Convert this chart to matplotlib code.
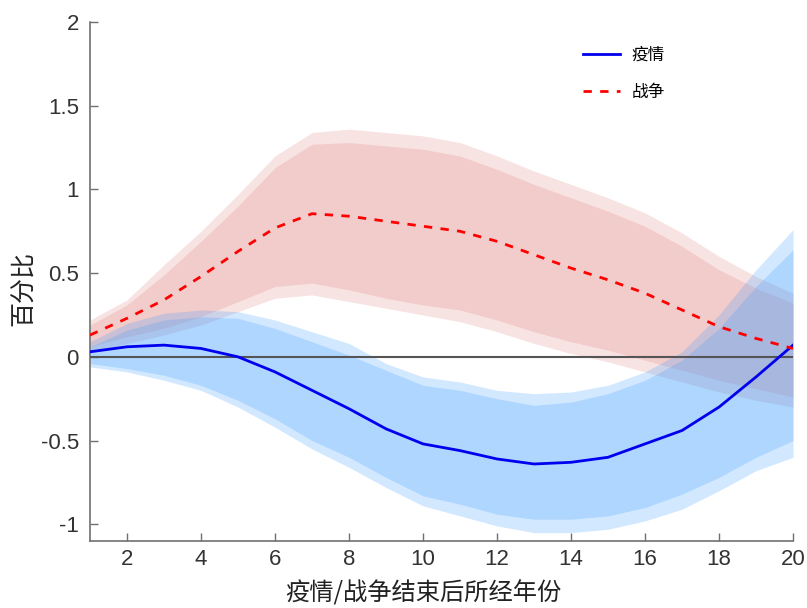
import matplotlib
matplotlib.use("Agg")
import matplotlib.pyplot as plt
import numpy as np

plt.rcParams['font.family'] = ['Noto Sans CJK SC', 'DejaVu Sans']

years = list(range(1, 21))

# 疫情 (pandemic)
epi_mean = [0.03, 0.06, 0.07, 0.05, 0.0, -0.09, -0.2, -0.31, -0.43, -0.52,
            -0.56, -0.61, -0.64, -0.63, -0.60, -0.52, -0.44, -0.30, -0.12, 0.07]
epi_up_outer = [0.09, 0.2, 0.26, 0.28, 0.27, 0.22, 0.15, 0.08, -0.04, -0.12,
                -0.15, -0.2, -0.22, -0.21, -0.17, -0.09, 0.03, 0.25, 0.52, 0.76]
epi_up_inner = [0.06, 0.16, 0.22, 0.24, 0.23, 0.17, 0.09, 0.01, -0.08, -0.17,
                -0.2, -0.25, -0.29, -0.27, -0.22, -0.14, -0.02, 0.17, 0.42, 0.64]
epi_lo_inner = [-0.04, -0.07, -0.11, -0.17, -0.26, -0.37, -0.5, -0.6, -0.72, -0.83,
                -0.88, -0.94, -0.97, -0.97, -0.95, -0.9, -0.82, -0.72, -0.6, -0.5]
epi_lo_outer = [-0.06, -0.09, -0.14, -0.2, -0.3, -0.42, -0.55, -0.66, -0.78, -0.89,
                -0.95, -1.01, -1.05, -1.05, -1.03, -0.98, -0.91, -0.8, -0.68, -0.6]

# 战争 (war)
war_mean = [0.13, 0.23, 0.34, 0.48, 0.63, 0.77, 0.855, 0.84, 0.81, 0.78,
            0.75, 0.69, 0.61, 0.53, 0.46, 0.38, 0.28, 0.18, 0.11, 0.05]
war_up_outer = [0.22, 0.34, 0.55, 0.75, 0.97, 1.2, 1.34, 1.36, 1.34, 1.32,
                1.28, 1.2, 1.11, 1.03, 0.95, 0.86, 0.74, 0.6, 0.48, 0.38]
war_up_inner = [0.19, 0.31, 0.49, 0.69, 0.9, 1.13, 1.27, 1.28, 1.26, 1.24,
                1.2, 1.12, 1.03, 0.95, 0.87, 0.78, 0.66, 0.52, 0.41, 0.32]
war_lo_inner = [0.06, 0.12, 0.17, 0.24, 0.33, 0.42, 0.44, 0.40, 0.35, 0.31,
                0.28, 0.22, 0.15, 0.09, 0.04, -0.02, -0.08, -0.14, -0.19, -0.24]
war_lo_outer = [0.03, 0.08, 0.13, 0.19, 0.27, 0.35, 0.37, 0.33, 0.29, 0.25,
                0.21, 0.15, 0.08, 0.02, -0.03, -0.09, -0.15, -0.21, -0.26, -0.30]

xticks = [2, 4, 6, 8, 10, 12, 14, 16, 18, 20]
yticks = [-1, -0.5, 0, 0.5, 1, 1.5, 2]
ytick_labels = ['-1', '-0.5', '0', '0.5', '1', '1.5', '2']

fig = plt.figure(figsize=(8.07, 6.08), dpi=100)
ax = fig.add_axes([0.1115, 0.1102, 0.8712, 0.8536])

blue_base = (0.2, 0.6, 1.0)
red_base = (0.82, 0.27, 0.27)

ax.fill_between(years, war_lo_outer, war_up_outer, color=red_base, alpha=0.15, lw=0)
ax.fill_between(years, war_lo_inner, war_up_inner, color=red_base, alpha=0.15, lw=0)
ax.fill_between(years, epi_lo_outer, epi_up_outer, color=blue_base, alpha=0.22, lw=0)
ax.fill_between(years, epi_lo_inner, epi_up_inner, color=blue_base, alpha=0.22, lw=0)

ax.axhline(0, color='#555555', lw=1.5, zorder=3)

ax.plot(years, epi_mean, color='#0000ee', lw=2, label='疫情', zorder=4)
ax.plot(years, war_mean, color='#ff0000', lw=2, ls=(0, (3, 3)), label='战争', zorder=4)

ax.set_xlim(1, 20)
ax.set_ylim(-1.1, 2)
ax.set_xticks(xticks)
ax.set_yticks(yticks)
ax.set_yticklabels(ytick_labels)

for s in ['top', 'right']:
    ax.spines[s].set_visible(False)
for s in ['left', 'bottom']:
    ax.spines[s].set_color('#707070')
    ax.spines[s].set_linewidth(1.2)
ax.tick_params(direction='in', length=6, width=1, color='#707070',
               labelsize=16, labelcolor='#333333')
ax.tick_params(axis='y', pad=8)
ax.tick_params(axis='x', pad=6)
for lab in ax.get_xticklabels() + ax.get_yticklabels():
    lab.set_fontfamily(['Liberation Sans', 'DejaVu Sans'])

ax.set_xlabel('疫情/战争结束后所经年份', fontsize=17.5, color='#222222')
ax.set_ylabel('百分比', fontsize=18, color='#222222')
ax.xaxis.set_label_coords((423 - 90) / 703, -0.077)
ax.yaxis.set_label_coords(-0.075, (541 - 288) / 519)

ax.legend(loc='upper left', bbox_to_anchor=(0.68, 0.982), frameon=False,
          fontsize=12, handlelength=2.2, labelspacing=1.25, handletextpad=0.7)

fig.savefig('out.png', dpi=100)
